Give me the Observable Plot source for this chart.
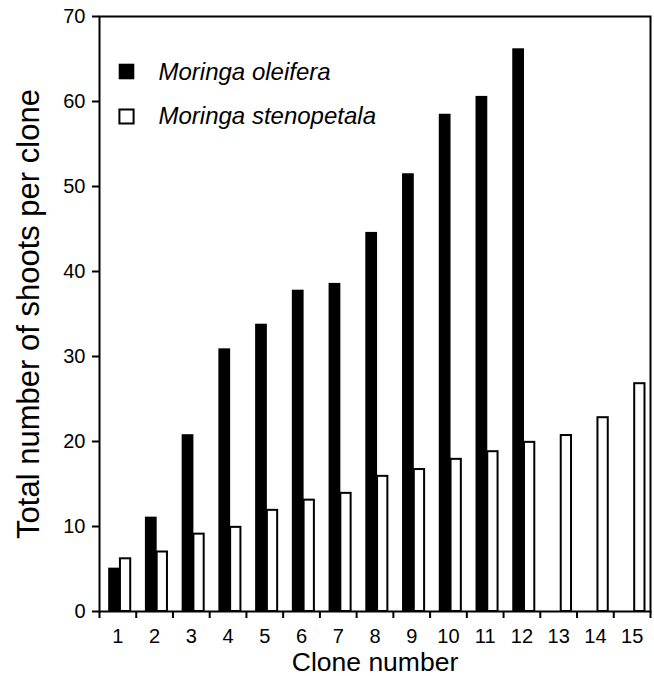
<!DOCTYPE html>
<html>
<head>
<meta charset="utf-8">
<script src="https://cdn.jsdelivr.net/npm/d3@7"></script>
<script src="https://cdn.jsdelivr.net/npm/@observablehq/plot@0.6"></script>
<style>
  html, body { margin: 0; padding: 0; background: #fff; }
  #chart svg { display: block; }
</style>
</head>
<body>
<div id="chart"></div>
<script>
// ---- Data ----
const clones = [1, 2, 3, 4, 5, 6, 7, 8, 9, 10, 11, 12, 13, 14, 15];
const oleifera = [5.1, 11.1, 20.8, 30.9, 33.8, 37.8, 38.6, 44.6, 51.5, 58.5, 60.6, 66.2];
const stenopetala = [6.2, 7.0, 9.1, 9.9, 11.9, 13.1, 13.9, 15.9, 16.7, 17.9, 18.8, 19.9, 20.7, 22.8, 26.8];
const yTicks = [0, 10, 20, 30, 40, 50, 60, 70];
const seriesNames = ["Moringa oleifera", "Moringa stenopetala"];
const xTitle = "Clone number";
const yTitle = "Total number of shoots per clone";

const oleData = oleifera.map((v, i) => ({clone: clones[i], value: v}));
const stenData = stenopetala.map((v, i) => ({clone: clones[i], value: v}));
const boundaries = [0.5, ...clones.map(c => c + 0.5)];

const font = "'Liberation Sans', Arial, Helvetica, sans-serif";

const chart = Plot.plot({
  width: 654,
  height: 676,
  marginLeft: 99,
  marginRight: 4,
  marginTop: 16,
  marginBottom: 65,
  style: {fontFamily: font, fontSize: "20px", color: "#000", background: "#fff"},
  x: {type: "linear", domain: [0.5, 15.5]},
  y: {domain: [0, 70]},
  marks: [
    // bars
    Plot.rectY(oleData, {x1: d => d.clone - 0.25, x2: d => d.clone + 0.07, y1: 0, y2: "value", fill: "#000", inset: 0}),
    Plot.rectY(stenData, {x1: d => d.clone + 0.07, x2: d => d.clone + 0.35, y1: 0, y2: "value", fill: "#fff", stroke: "#000", strokeWidth: 2, inset: 0}),
    // frame box
    Plot.frame({stroke: "#000", strokeWidth: 2}),
    // y axis
    Plot.axisY({ticks: yTicks, tickSize: 7, tickPadding: 7, strokeWidth: 2, label: null, fontSize: 20}),
    // x axis: boundary ticks and centred labels
    Plot.axisX({ticks: boundaries, tickSize: 7, tickFormat: () => "", strokeWidth: 2, label: null}),
    Plot.axisX({ticks: clones, tickSize: 0, tickPadding: 17, tickFormat: d => String(d), label: null, fontSize: 20}),
    // axis titles
    Plot.text([xTitle], {text: d => d, frameAnchor: "bottom", lineAnchor: "bottom", dy: 59, fontSize: 26.5, fill: "#000"}),
    Plot.text([yTitle], {text: d => d, frameAnchor: "left", textAnchor: "middle", lineAnchor: "middle", rotate: -90, dx: -70, fontSize: 31, fill: "#000"}),
    // legend
    Plot.dot([seriesNames[0]], {frameAnchor: "top-left", dx: 27, dy: 55, symbol: "square", r: 8.8, fill: "#000", stroke: "none"}),
    Plot.dot([seriesNames[1]], {frameAnchor: "top-left", dx: 27, dy: 100, symbol: "square", r: 8.0, fill: "#fff", stroke: "#000", strokeWidth: 2}),
    Plot.text([seriesNames[0]], {text: d => d, frameAnchor: "top-left", textAnchor: "start", lineAnchor: "middle", dx: 59, dy: 56, fontSize: 24, fontStyle: "italic", fill: "#000"}),
    Plot.text([seriesNames[1]], {text: d => d, frameAnchor: "top-left", textAnchor: "start", lineAnchor: "middle", dx: 59, dy: 100, fontSize: 24, fontStyle: "italic", fill: "#000"})
  ]
});
document.getElementById("chart").appendChild(chart);
</script>
</body>
</html>
